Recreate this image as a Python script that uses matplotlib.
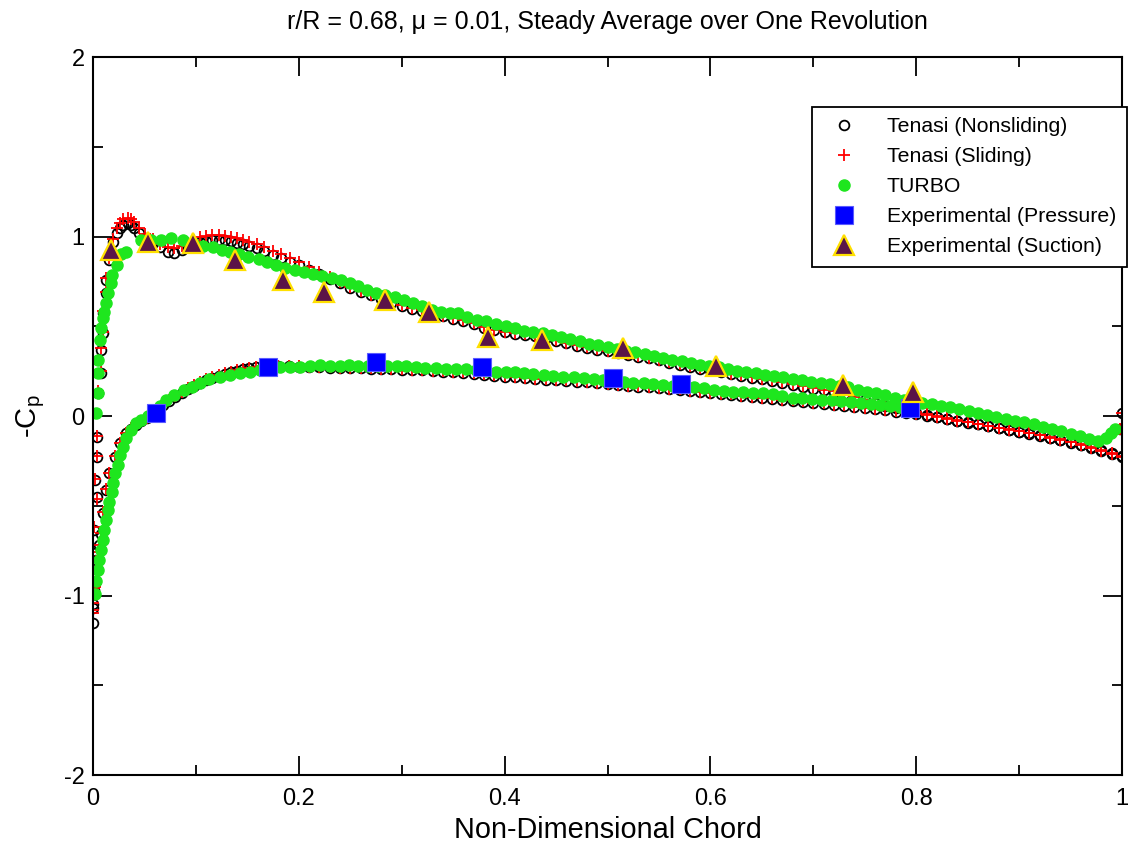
import matplotlib
matplotlib.use("Agg")
import matplotlib.pyplot as plt

# Tenasi (nonsliding / sliding), upper surface near the leading edge
le_up_x = [0.0003, 0.0002, 0.0005, 0.0001, 0.0002, 0.0005, 0.004, 0.002, 0.004, 0.004,
           0.005, 0.008, 0.008, 0.010, 0.010, 0.013, 0.013, 0.016, 0.019, 0.023,
           0.026, 0.029, 0.034, 0.037, 0.040, 0.045, 0.051, 0.058, 0.065, 0.073,
           0.079, 0.086, 0.092, 0.098, 0.104, 0.110, 0.116, 0.122, 0.128, 0.134,
           0.140, 0.146, 0.152, 0.159, 0.166, 0.175, 0.183, 0.191, 0.200]
le_up_ns = [-1.155, -1.07, -0.97, -0.886, -0.765, -0.635, -0.45, -0.357, -0.227, -0.115,
            0.128, 0.238, 0.368, 0.462, 0.573, 0.683, 0.758, 0.87, 0.97, 1.018,
            1.045, 1.064, 1.073, 1.062, 1.045, 1.018, 0.99, 0.965, 0.943, 0.915,
            0.91, 0.925, 0.943, 0.958, 0.971, 0.977, 0.98, 0.981, 0.979, 0.974,
            0.966, 0.956, 0.946, 0.934, 0.917, 0.897, 0.878, 0.86, 0.84]
le_up_sl = [-1.10, -1.04, -0.96, -0.87, -0.76, -0.62, -0.46, -0.35, -0.22, -0.11,
            0.14, 0.25, 0.38, 0.47, 0.585, 0.69, 0.77, 0.88, 0.985, 1.045,
            1.075, 1.097, 1.105, 1.098, 1.08, 1.05, 1.015, 0.985, 0.96, 0.94,
            0.935, 0.945, 0.962, 0.98, 0.995, 1.002, 1.006, 1.007, 1.005, 1.0,
            0.992, 0.982, 0.97, 0.957, 0.94, 0.92, 0.9, 0.88, 0.857]

# Tenasi, lower surface near the leading edge
le_lo_x = [0.0, 0.0015, 0.003, 0.006, 0.008, 0.010, 0.013, 0.016, 0.021, 0.026,
           0.032, 0.037, 0.042, 0.047, 0.052, 0.057, 0.062, 0.068, 0.074, 0.080,
           0.086, 0.092, 0.098, 0.104, 0.110, 0.116, 0.122, 0.128, 0.134, 0.140,
           0.146, 0.152, 0.158, 0.165, 0.172, 0.180, 0.190, 0.200]
le_lo_ns = [-1.045, -0.93, -0.80, -0.72, -0.655, -0.54, -0.41, -0.32, -0.227, -0.152,
            -0.097, -0.07, -0.05, -0.03, -0.013, 0.01, 0.035, 0.06, 0.085, 0.108,
            0.13, 0.15, 0.168, 0.185, 0.20, 0.213, 0.225, 0.235, 0.245, 0.253,
            0.26, 0.266, 0.272, 0.276, 0.278, 0.278, 0.277, 0.275]
le_lo_sl = [-1.08, -0.95, -0.81, -0.72, -0.65, -0.535, -0.405, -0.315, -0.22, -0.148,
            -0.093, -0.066, -0.046, -0.026, -0.009, 0.014, 0.04, 0.065, 0.09, 0.113,
            0.135, 0.155, 0.173, 0.19, 0.205, 0.218, 0.229, 0.239, 0.248, 0.256,
            0.263, 0.269, 0.274, 0.278, 0.28, 0.28, 0.279, 0.277]

# Tenasi, rest of the chord (shared chord stations)
mid_x = [0.21, 0.22, 0.23, 0.24, 0.25, 0.26, 0.27, 0.28, 0.29, 0.30,
         0.31, 0.32, 0.33, 0.34, 0.35, 0.36, 0.37, 0.38, 0.39, 0.40,
         0.41, 0.42, 0.43, 0.44, 0.45, 0.46, 0.47, 0.48, 0.49, 0.50,
         0.51, 0.52, 0.53, 0.54, 0.55, 0.56, 0.57, 0.58, 0.59, 0.60,
         0.61, 0.62, 0.63, 0.64, 0.65, 0.66, 0.67, 0.68, 0.69, 0.70,
         0.71, 0.72, 0.73, 0.74, 0.75, 0.76, 0.77, 0.78, 0.79, 0.80,
         0.81, 0.82, 0.83, 0.84, 0.85, 0.86, 0.87, 0.88, 0.89, 0.90,
         0.91, 0.92, 0.93, 0.94, 0.95, 0.96, 0.97, 0.98, 0.99, 1.00]
mid_up_ns = [0.815, 0.79, 0.765, 0.74, 0.715, 0.693, 0.672, 0.652, 0.632, 0.613,
             0.598, 0.584, 0.57, 0.556, 0.543, 0.529, 0.513, 0.493, 0.478, 0.466,
             0.458, 0.451, 0.444, 0.434, 0.418, 0.405, 0.391, 0.379, 0.37, 0.36,
             0.35, 0.34, 0.331, 0.321, 0.31, 0.298, 0.286, 0.274, 0.264, 0.256,
             0.245, 0.232, 0.222, 0.213, 0.204, 0.194, 0.183, 0.172, 0.162, 0.152,
             0.143, 0.134, 0.12, 0.104, 0.087, 0.071, 0.056, 0.043, 0.031, 0.019,
             0.007, -0.004, -0.015, -0.026, -0.036, -0.047, -0.057, -0.067, -0.077, -0.087,
             -0.097, -0.108, -0.12, -0.132, -0.145, -0.16, -0.175, -0.19, -0.208, -0.225]
mid_up_sl = [0.83, 0.80, 0.772, 0.745, 0.72, 0.697, 0.676, 0.656, 0.636, 0.617,
             0.602, 0.588, 0.574, 0.56, 0.547, 0.533, 0.517, 0.497, 0.482, 0.47,
             0.462, 0.455, 0.448, 0.438, 0.422, 0.409, 0.395, 0.383, 0.374, 0.364,
             0.354, 0.344, 0.335, 0.325, 0.314, 0.302, 0.29, 0.278, 0.268, 0.26,
             0.249, 0.236, 0.226, 0.217, 0.208, 0.198, 0.187, 0.176, 0.166, 0.156,
             0.147, 0.138, 0.124, 0.108, 0.091, 0.075, 0.06, 0.047, 0.035, 0.023,
             0.011, 0.0, -0.011, -0.022, -0.033, -0.044, -0.054, -0.064, -0.074, -0.084,
             -0.094, -0.105, -0.117, -0.129, -0.142, -0.157, -0.172, -0.188, -0.205, -0.222]
mid_lo_ns = [0.273, 0.271, 0.27, 0.268, 0.266, 0.265, 0.263, 0.262, 0.26, 0.258,
             0.256, 0.254, 0.251, 0.248, 0.245, 0.241, 0.236, 0.23, 0.224, 0.22,
             0.215, 0.211, 0.207, 0.203, 0.2, 0.196, 0.192, 0.187, 0.182, 0.178,
             0.173, 0.168, 0.164, 0.16, 0.156, 0.151, 0.146, 0.14, 0.134, 0.128,
             0.123, 0.118, 0.112, 0.106, 0.101, 0.096, 0.09, 0.085, 0.079, 0.073,
             0.068, 0.062, 0.057, 0.051, 0.045, 0.039, 0.032, 0.025, 0.018, 0.01,
             0.002, -0.007, -0.017, -0.027, -0.037, -0.047, -0.057, -0.068, -0.078, -0.088,
             -0.098, -0.11, -0.122, -0.135, -0.148, -0.162, -0.178, -0.195, -0.212, -0.23]
mid_lo_sl = [0.275, 0.273, 0.272, 0.27, 0.268, 0.267, 0.265, 0.264, 0.262, 0.26,
             0.258, 0.256, 0.253, 0.25, 0.247, 0.243, 0.238, 0.232, 0.226, 0.222,
             0.217, 0.213, 0.209, 0.205, 0.202, 0.198, 0.194, 0.189, 0.184, 0.18,
             0.175, 0.17, 0.166, 0.162, 0.158, 0.153, 0.148, 0.142, 0.136, 0.13,
             0.125, 0.12, 0.114, 0.108, 0.103, 0.098, 0.092, 0.087, 0.081, 0.075,
             0.07, 0.064, 0.059, 0.053, 0.047, 0.041, 0.034, 0.027, 0.02, 0.012,
             0.004, -0.005, -0.015, -0.025, -0.035, -0.045, -0.055, -0.066, -0.076, -0.086,
             -0.096, -0.108, -0.12, -0.133, -0.146, -0.16, -0.176, -0.193, -0.21, -0.228]

# trailing edge base points
te_x = [0.998, 1.0]
te_y = [-0.07, 0.015]

# TURBO, upper surface
turbo_up_x = [0.003, 0.005, 0.005, 0.005, 0.0065, 0.008, 0.010, 0.011, 0.013, 0.015,
              0.017, 0.018, 0.023, 0.027, 0.032, 0.047, 0.056, 0.066, 0.076, 0.087,
              0.097, 0.107, 0.117, 0.125, 0.133, 0.142, 0.151, 0.161, 0.169, 0.178,
              0.187, 0.196, 0.205, 0.214, 0.223, 0.232, 0.241, 0.250, 0.258, 0.266,
              0.275, 0.284, 0.293, 0.302, 0.311, 0.320, 0.329, 0.338, 0.347, 0.355,
              0.363, 0.373, 0.382, 0.392, 0.401, 0.410, 0.419, 0.428, 0.437, 0.446,
              0.455, 0.464, 0.473, 0.482, 0.491, 0.500, 0.509, 0.518, 0.527, 0.536,
              0.545, 0.554, 0.563, 0.572, 0.581, 0.590, 0.599, 0.608, 0.617, 0.626,
              0.635, 0.644, 0.653, 0.662, 0.671, 0.680, 0.689, 0.698, 0.707, 0.716,
              0.725, 0.734, 0.743, 0.752, 0.761, 0.770, 0.779, 0.788, 0.797, 0.806,
              0.815, 0.824, 0.833, 0.842, 0.851, 0.860, 0.869, 0.878, 0.887, 0.896,
              0.905, 0.914, 0.923, 0.932, 0.941, 0.950, 0.959, 0.968, 0.977, 0.984,
              0.989, 0.993]
turbo_up_y = [0.015, 0.128, 0.238, 0.312, 0.423, 0.488, 0.544, 0.581, 0.628, 0.683,
              0.739, 0.785, 0.841, 0.905, 0.915, 0.98, 0.982, 0.98, 0.99, 0.98,
              0.965, 0.945, 0.94, 0.925, 0.915, 0.9, 0.887, 0.873, 0.86, 0.842,
              0.826, 0.812, 0.80, 0.79, 0.78, 0.77, 0.757, 0.743, 0.725, 0.703,
              0.688, 0.673, 0.661, 0.645, 0.628, 0.612, 0.592, 0.577, 0.575, 0.572,
              0.553, 0.537, 0.532, 0.512, 0.50, 0.49, 0.476, 0.468, 0.46, 0.452,
              0.442, 0.43, 0.416, 0.404, 0.395, 0.385, 0.375, 0.365, 0.355, 0.347,
              0.336, 0.322, 0.312, 0.305, 0.296, 0.286, 0.278, 0.272, 0.262, 0.252,
              0.246, 0.24, 0.23, 0.222, 0.215, 0.207, 0.199, 0.19, 0.183, 0.177,
              0.17, 0.16, 0.145, 0.132, 0.126, 0.118, 0.10, 0.09, 0.082, 0.072,
              0.065, 0.058, 0.048, 0.038, 0.028, 0.018, 0.008, -0.003, -0.014, -0.025,
              -0.036, -0.047, -0.059, -0.072, -0.085, -0.098, -0.112, -0.126, -0.138, -0.12,
              -0.095, -0.075]

# TURBO, lower surface
turbo_lo_x = [0.0015, 0.003, 0.005, 0.006, 0.008, 0.010, 0.011, 0.013, 0.015, 0.016,
              0.018, 0.019, 0.021, 0.024, 0.026, 0.029, 0.032, 0.037, 0.042, 0.047,
              0.053, 0.059, 0.065, 0.071, 0.079, 0.088, 0.096, 0.104, 0.113, 0.123,
              0.133, 0.143, 0.153, 0.162, 0.172, 0.182, 0.191, 0.201, 0.211, 0.221,
              0.230, 0.240, 0.249, 0.258, 0.267, 0.277, 0.286, 0.295, 0.304, 0.314,
              0.323, 0.333, 0.343, 0.353, 0.362, 0.372, 0.382, 0.392, 0.401, 0.410,
              0.419, 0.428, 0.438, 0.447, 0.457, 0.467, 0.477, 0.487, 0.496, 0.506,
              0.516, 0.525, 0.535, 0.544, 0.554, 0.564, 0.574, 0.584, 0.594, 0.603,
              0.613, 0.622, 0.632, 0.641, 0.651, 0.661, 0.670, 0.680, 0.689, 0.699,
              0.708, 0.718, 0.727, 0.737, 0.746, 0.756, 0.765, 0.775, 0.784, 0.793]
turbo_lo_y = [-0.99, -0.92, -0.86, -0.80, -0.746, -0.69, -0.635, -0.58, -0.524, -0.477,
              -0.425, -0.375, -0.32, -0.273, -0.217, -0.171, -0.124, -0.078, -0.041, -0.02,
              0.0, 0.025, 0.055, 0.089, 0.117, 0.145, 0.163, 0.185, 0.205, 0.219,
              0.228, 0.238, 0.247, 0.256, 0.268, 0.275, 0.275, 0.275, 0.279, 0.283,
              0.279, 0.279, 0.282, 0.279, 0.279, 0.279, 0.279, 0.279, 0.277, 0.274,
              0.268, 0.266, 0.262, 0.26, 0.26, 0.255, 0.25, 0.247, 0.247, 0.245,
              0.24, 0.234, 0.228, 0.222, 0.216, 0.216, 0.214, 0.208, 0.2, 0.195,
              0.19, 0.186, 0.182, 0.178, 0.172, 0.168, 0.165, 0.16, 0.155, 0.147,
              0.14, 0.135, 0.132, 0.13, 0.126, 0.12, 0.11, 0.103, 0.098, 0.095,
              0.092, 0.089, 0.084, 0.078, 0.072, 0.066, 0.061, 0.055, 0.05, 0.045]

# Experiment
exp_p_x = [0.0615, 0.17, 0.275, 0.378, 0.505, 0.571, 0.794]
exp_p_y = [0.015, 0.271, 0.303, 0.275, 0.213, 0.177, 0.045]
exp_s_x = [0.017, 0.053, 0.097, 0.138, 0.185, 0.224, 0.284, 0.327, 0.384, 0.436, 0.515, 0.605, 0.729, 0.797]
exp_s_y = [0.925, 0.97, 0.962, 0.869, 0.758, 0.693, 0.646, 0.581, 0.442, 0.423, 0.377, 0.281, 0.173, 0.135]

plt.rcParams["font.family"] = ["Liberation Sans", "DejaVu Sans"]
plt.rcParams["axes.unicode_minus"] = False

fig = plt.figure(figsize=(11.33, 8.5), dpi=100)
ax = fig.add_axes([0.0821, 0.0882, 0.9082, 0.8447])

tn_x = le_up_x + mid_x + te_x + le_lo_x + mid_x
tn_y = le_up_ns + mid_up_ns + te_y + le_lo_ns + mid_lo_ns
ts_y = le_up_sl + mid_up_sl + te_y + le_lo_sl + mid_lo_sl

ax.plot(tn_x, tn_y, ls="none", marker="o", ms=7, mfc="none", mec="black", mew=1.3,
        label="Tenasi (Nonsliding)")
ax.plot(tn_x, ts_y, ls="none", marker="+", ms=8.5, mec="red", mew=1.3,
        label="Tenasi (Sliding)")
ax.plot(turbo_up_x + turbo_lo_x, turbo_up_y + turbo_lo_y, ls="none", marker="o", ms=8,
        mfc="#1ee61e", mec="#1ee61e", label="TURBO")
ax.plot(exp_p_x, exp_p_y, ls="none", marker="s", ms=13.5, mfc="#0000ff", mec="#5a5aff",
        mew=0.8, label="Experimental (Pressure)")
ax.plot(exp_s_x, exp_s_y, ls="none", marker="^", ms=15, mfc="#5b1448", mec="#ffe000",
        mew=1.6, label="Experimental (Suction)")

ax.set_xlim(0, 1)
ax.set_ylim(-2, 2)
ax.set_xticks([0, 0.2, 0.4, 0.6, 0.8, 1.0])
ax.set_xticklabels(["0", "0.2", "0.4", "0.6", "0.8", "1"])
ax.set_xticks([0.1, 0.3, 0.5, 0.7, 0.9], minor=True)
ax.set_yticks([-2, -1, 0, 1, 2])
ax.set_yticks([-1.5, -0.5, 0.5, 1.5], minor=True)
ax.tick_params(which="both", direction="in", top=True, right=True, width=1.3)
ax.tick_params(which="major", length=14, labelsize=17, pad=6)
ax.tick_params(axis="x", which="major", pad=9)
ax.tick_params(which="minor", length=7)
for s in ax.spines.values():
    s.set_linewidth(1.5)

ax.set_xlabel("Non-Dimensional Chord", fontsize=20.8, labelpad=5)
ax.set_ylabel(r"-C$_\mathregular{p}$", fontsize=21, labelpad=12)
ax.set_title("r/R = 0.68, \u03bc = 0.01, Steady Average over One Revolution",
             fontsize=18, pad=20)

leg = ax.legend(loc="upper left", bbox_to_anchor=(0.699, 0.931), fontsize=15.3,
                frameon=True, fancybox=False, edgecolor="black", framealpha=1,
                borderpad=0.5, labelspacing=0.52, handletextpad=1.0,
                handlelength=2.0, borderaxespad=0)
leg.get_frame().set_linewidth(1.3)

fig.savefig("out.png", dpi=100)
